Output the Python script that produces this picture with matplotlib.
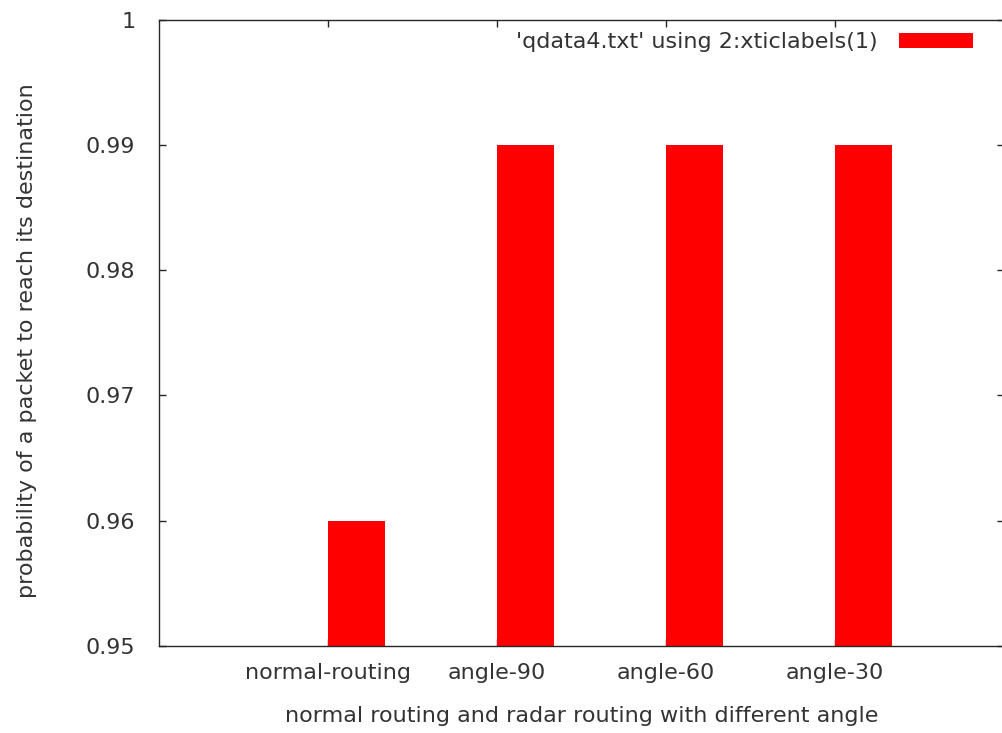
import matplotlib.pyplot as plt
import numpy as np

labels = ["normal-routing", "angle-90", "angle-60", "angle-30"]
values = [0.96, 0.99, 0.99, 0.99]
yticks = [0.95, 0.96, 0.97, 0.98, 0.99, 1.0]
ytick_labels = ["0.95", "0.96", "0.97", "0.98", "0.99", "1"]

plt.rcParams["font.family"] = ["DejaVu Sans"]
ink = "#262626"
txt = "#333333"
fs = 16

fig = plt.figure(figsize=(10.03, 7.33), dpi=100, facecolor="white")
ax = fig.add_axes([159 / 1003, 87 / 733, 845 / 1003, 626.5 / 733])

x = np.arange(len(labels))
ax.bar(x, values, width=0.34, align="edge", color="#ff0000", zorder=2,
       label="'qdata4.txt' using 2:xticlabels(1)")

ax.set_xlim(-1, 4)
ax.set_ylim(0.95, 1.0)
ax.set_xticks(x)
ax.set_xticklabels(labels)
ax.set_yticks(yticks)
ax.set_yticklabels(ytick_labels)

ax.tick_params(direction="in", length=5, width=1, color=ink, labelcolor=txt,
               labelsize=fs, top=True, right=True)
ax.tick_params(axis="y", pad=17)
ax.tick_params(axis="x", pad=12)
for s in ax.spines.values():
    s.set_color(ink)
    s.set_linewidth(1)

ax.set_xlabel("normal routing and radar routing with different angle",
              fontsize=fs, color=txt, labelpad=17)
ax.set_ylabel("probability of a packet to reach its destination",
              fontsize=fs, color=txt)
ax.yaxis.set_label_coords(-0.1444, 0.488)

# key sits just under the top frame, sample box on the right
ax.legend(loc="upper right", bbox_to_anchor=(1 - 31 / 845, 1 - 13 / 626.5),
          frameon=False, markerfirst=False, fontsize=fs,
          handlelength=3.35, handleheight=0.63, handletextpad=0.95,
          borderpad=0, borderaxespad=0, labelcolor=txt)

fig.savefig("out.png", dpi=100, facecolor="white")
